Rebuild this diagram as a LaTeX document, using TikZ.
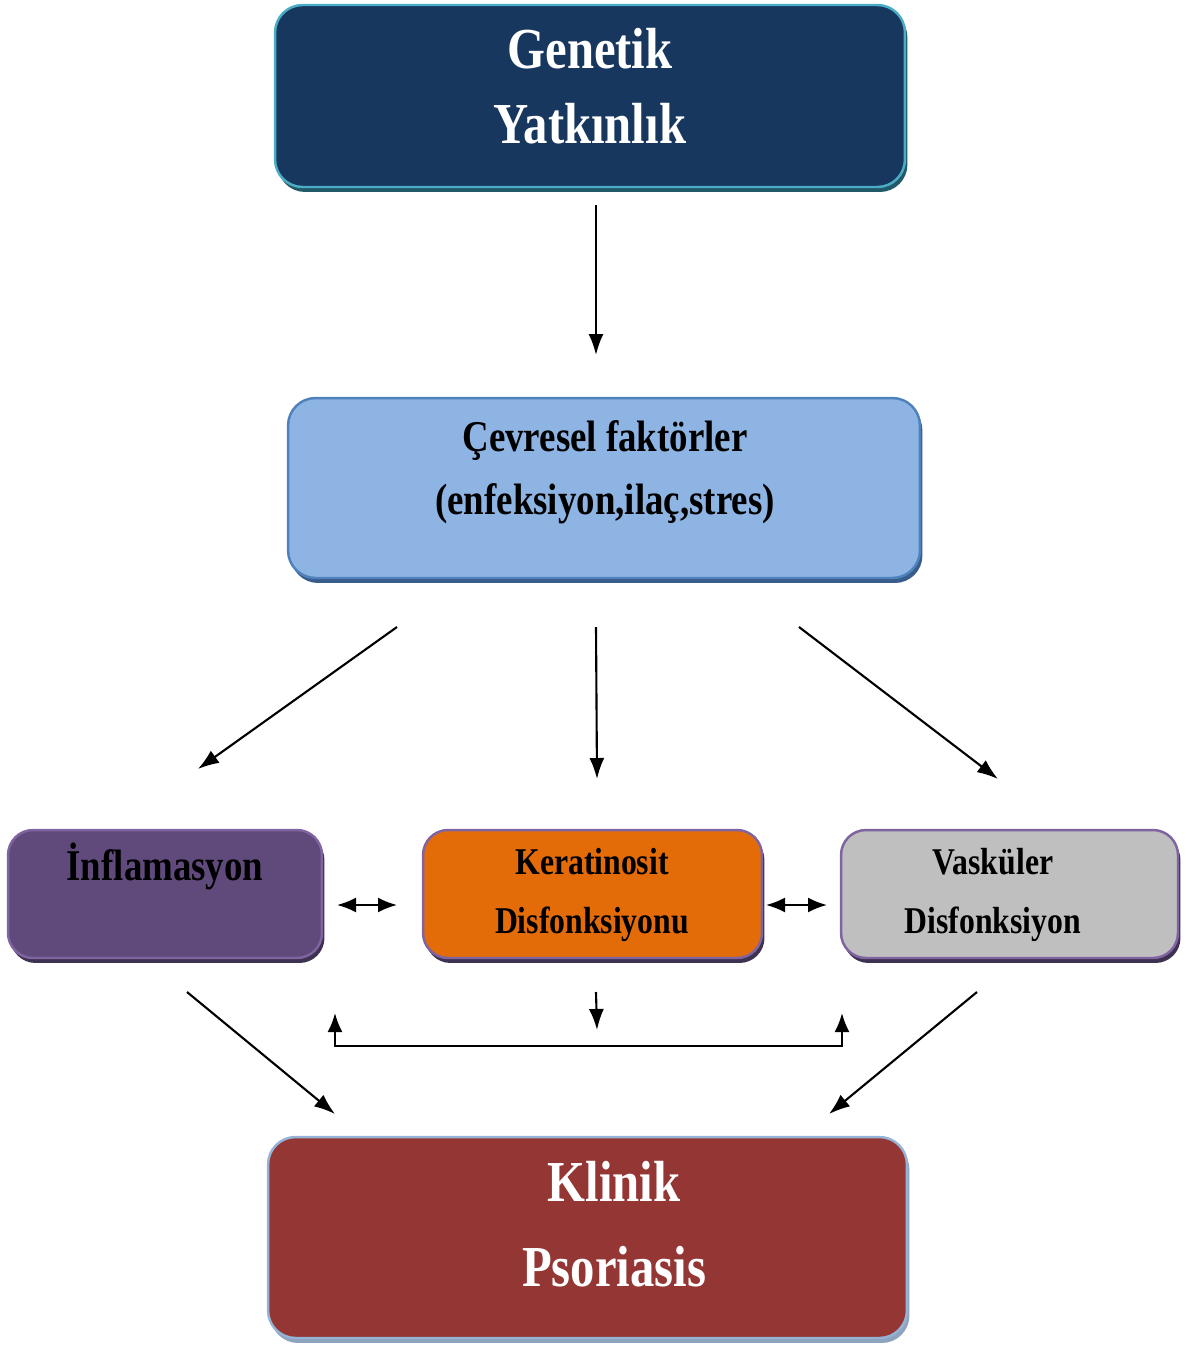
\documentclass[tikz,border=0pt]{standalone}
\usepackage{fontspec}
\setmainfont{Liberation Serif}[FakeStretch=0.84]
\usetikzlibrary{arrows.meta,shadows}

\definecolor{genfill}{HTML}{17375E}
\definecolor{genrim}{HTML}{4BACC6}
\definecolor{genshade}{HTML}{215968}
\definecolor{cevfill}{HTML}{8DB4E2}
\definecolor{cevrim}{HTML}{4F81BD}
\definecolor{cevshade}{HTML}{385D8A}
\definecolor{inffill}{HTML}{604A7B}
\definecolor{kerfill}{HTML}{E36C09}
\definecolor{vasfill}{HTML}{BFBFBF}
\definecolor{smallrim}{HTML}{8064A2}
\definecolor{smallshade}{HTML}{3F3151}
\definecolor{klifill}{HTML}{943634}
\definecolor{klirim}{HTML}{95B3D7}
\definecolor{klishade}{HTML}{8EA4BE}

\begin{document}
\begin{tikzpicture}[x=0.02cm, y=-0.02cm,
    box/.style={draw, line width=1.4pt, rounded corners=0.55cm},
    shade/.style={drop shadow={shadow xshift=0.05cm, shadow yshift=-0.1cm, fill=#1, opacity=1}},
    txt/.style={align=center},
    arr/.style={-{Latex[length=0.42cm, width=0.3cm]}, line width=1.2pt},
    darr/.style={{Latex[length=0.38cm, width=0.3cm]}-{Latex[length=0.38cm, width=0.3cm]}, line width=1.2pt}]
    \useasboundingbox (0,0) rectangle (1186,1345);

    \node (gen) [box, fill=genfill, draw=genrim, shade=genshade, minimum width=12.6cm, minimum height=3.64cm] at (590,96) {};
    \node (gentxt) [txt, text=white, font=\bfseries\fontsize{33}{42.5}\selectfont] at (590,86) {Genetik\\Yatkınlık};

    \node (cev) [box, fill=cevfill, draw=cevrim, shade=cevshade, minimum width=12.64cm, minimum height=3.6cm] at (604,488) {};
    \node (cevtxt) [txt, font=\bfseries\fontsize{25}{35.7}\selectfont] at (605,472) {Çevresel faktörler\\(enfeksiyon,ilaç,stres)};

    \node (inf) [box, rounded corners=0.5cm, fill=inffill, draw=smallrim, shade=smallshade, minimum width=6.28cm, minimum height=2.56cm] at (165,894) {};
    \node (inftxt) [txt, font=\bfseries\fontsize{25}{30}\selectfont] at (165,866) {İnflamasyon};

    \node (ker) [box, rounded corners=0.5cm, fill=kerfill, draw=smallrim, shade=smallshade, minimum width=6.78cm, minimum height=2.56cm] at (592.5,894) {};
    \node (kertxt) [txt, font=\bfseries\fontsize{21.5}{33.4}\selectfont] at (592,895) {Keratinosit\\Disfonksiyonu};

    \node (vas) [box, rounded corners=0.5cm, fill=vasfill, draw=smallrim, shade=smallshade, minimum width=6.74cm, minimum height=2.56cm] at (1009.5,894) {};
    \node (vastxt) [txt, font=\bfseries\fontsize{21.5}{33.4}\selectfont] at (993,895) {Vasküler\\Disfonksiyon};

    \node (kli) [box, fill=klifill, draw=klirim, shade=klishade, minimum width=12.78cm, minimum height=4.02cm] at (587.5,1237.5) {};
    \node (klitxt) [txt, text=white, font=\bfseries\fontsize{33}{48}\selectfont] at (614,1224) {Klinik\\Psoriasis};

    % arrow ends
    \coordinate (g1) at (596,205);
    \coordinate (g2) at (596,355);
    \coordinate (c1) at (397,627);
    \coordinate (c2) at (198,769);
    \coordinate (c3) at (596,627);
    \coordinate (c4) at (597,779);
    \coordinate (c5) at (799,627);
    \coordinate (c6) at (998,779);
    \coordinate (d1) at (337,905);
    \coordinate (d2) at (397,905);
    \coordinate (d3) at (766,905);
    \coordinate (d4) at (827,905);
    \coordinate (k1) at (187,992);
    \coordinate (k2) at (335,1114);
    \coordinate (k3) at (596,992);
    \coordinate (k4) at (597,1030);
    \coordinate (k5) at (977,992);
    \coordinate (k6) at (829,1114);
    \coordinate (b1) at (335,1013);
    \coordinate (b2) at (842,1013);
    \coordinate (bbase) at (596,1046);

    \path [arr] (g1) edge (g2)
                (c1) edge (c2)
                (c3) edge (c4)
                (c5) edge (c6)
                (k1) edge (k2)
                (k3) edge (k4)
                (k5) edge (k6);
    \path [darr] (d1) edge (d2)
                 (d3) edge (d4);
    \draw [darr] (b1) |- (bbase) -| (b2);
\end{tikzpicture}
\end{document}
